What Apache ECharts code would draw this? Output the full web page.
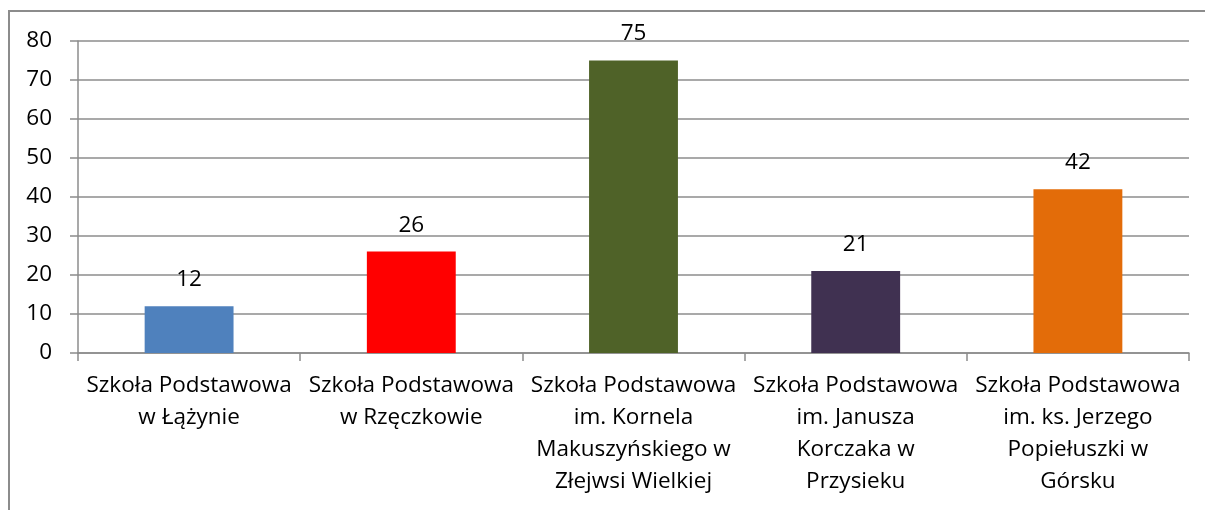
<!DOCTYPE html>
<html>
<head>
<meta charset="utf-8">
<script src="https://cdn.jsdelivr.net/npm/echarts@6/dist/echarts.min.js"></script>
<style>
  html, body { margin: 0; padding: 0; background: #fff; }
  #chart { width: 1205px; height: 510px; }
</style>
</head>
<body>
<div id="chart"></div>
<script>
var categories = [
  'Szkoła Podstawowa\nw Łążynie',
  'Szkoła Podstawowa\nw Rzęczkowie',
  'Szkoła Podstawowa\nim. Kornela\nMakuszyńskiego w\nZłejwsi Wielkiej',
  'Szkoła Podstawowa\nim. Janusza\nKorczaka w\nPrzysieku',
  'Szkoła Podstawowa\nim. ks. Jerzego\nPopiełuszki w\nGórsku'
];
var values = [12, 26, 75, 21, 42];
var barColors = ['#4f81bd', '#ff0000', '#4f6228', '#403151', '#e36c09'];

var fontName = 'Open Sans';
var chart = echarts.init(document.getElementById('chart'));

chart.setOption({
  animation: false,
  graphic: [{
    type: 'rect',
    shape: { x: 9, y: 11, width: 1300, height: 600 },
    style: { fill: 'none', stroke: '#8c8c8c', lineWidth: 2 },
    silent: true
  }],
  grid: { left: 78, right: 16, top: 41, bottom: 157 },
  xAxis: {
    type: 'category',
    data: categories,
    axisLine: { lineStyle: { color: '#8c8c8c', width: 1.5 } },
    axisTick: { show: true, length: 8, alignWithLabel: false, lineStyle: { color: '#8c8c8c', width: 1.5 } },
    axisLabel: {
      interval: 0,
      margin: 17,
      color: '#000',
      fontFamily: fontName,
      fontSize: 22.5,
      lineHeight: 32
    }
  },
  yAxis: {
    type: 'value',
    min: 0,
    max: 80,
    interval: 10,
    axisLine: { show: true, lineStyle: { color: '#8c8c8c', width: 1.5 } },
    axisTick: { show: true, length: 8, lineStyle: { color: '#8c8c8c', width: 1.5 } },
    splitLine: { lineStyle: { color: '#8c8c8c', width: 1.5 } },
    axisLabel: {
      margin: 26,
      color: '#000',
      fontFamily: fontName,
      fontSize: 22.5
    }
  },
  series: [{
    type: 'bar',
    barWidth: '40%',
    data: values.map(function (v, i) {
      return { value: v, itemStyle: { color: barColors[i] } };
    }),
    label: {
      show: true,
      position: 'top',
      distance: 15,
      color: '#000',
      fontFamily: fontName,
      fontSize: 22.5
    }
  }]
});
</script>
</body>
</html>
